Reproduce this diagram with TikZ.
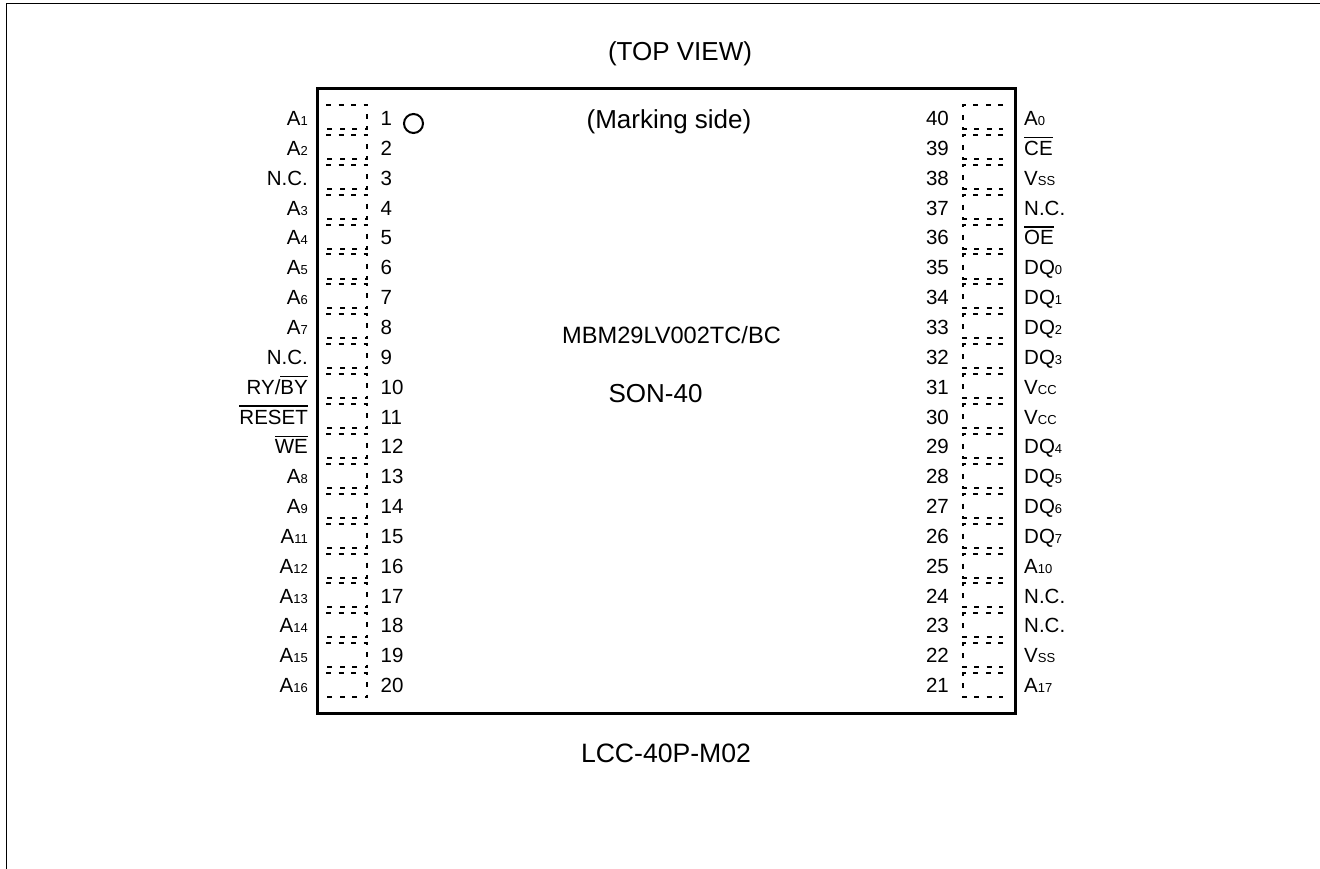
\documentclass[tikz,border=0pt]{standalone}
\usepackage{fontspec}
\setmainfont{Liberation Sans}
\newcommand\ob[1]{\leavevmode\vbox{\hrule height 1.4pt \kern 2.8pt \hbox{#1}}}
\newcommand\sbs[1]{{\fontsize{13}{13}\selectfont #1}}
\newcommand\plab[2]{#1\sbs{#2}}
\tikzset{
  x=1pt,y=-1pt,
  pinbox/.style={line width=2pt,dash pattern=on 5pt off 7.5pt},
  pinnum/.style={font=\fontsize{20.5}{20.5}\selectfont,inner sep=0pt},
  bigtext/.style={font=\fontsize{26}{26}\selectfont,inner sep=0pt,anchor=base},
}
\begin{document}
\begin{tikzpicture}
\useasboundingbox (0,0) rectangle (1320,869);
\draw[line width=1.3pt] (6.5,869) -- (6.5,3.5) -- (1320,3.5);
\draw[line width=3pt] (317,89) rectangle (1015,713);
\node[bigtext] (title) at (680,61) {(TOP VIEW)};
\node[bigtext] (mark) at (669,129) {(Marking side)};
\node[bigtext,font=\fontsize{23.6}{23.6}\selectfont] (part) at (671.5,343) {MBM29LV002TC/BC};
\node[bigtext] (pkg) at (655.5,402) {SON-40};
\node[bigtext,font=\fontsize{26.6}{26.6}\selectfont] (code) at (666,762) {LCC-40P-M02};
\draw[line width=2pt] (413.5,123.5) circle (9.5);
\foreach \i/\t in {1/\plab{A}{1},2/\plab{A}{2},3/N.C.,4/\plab{A}{3},5/\plab{A}{4},6/\plab{A}{5},7/\plab{A}{6},8/\plab{A}{7},9/N.C.,10/{RY/\ob{BY}},11/\ob{RESET},12/\ob{WE},13/\plab{A}{8},14/\plab{A}{9},15/\plab{A}{11},16/\plab{A}{12},17/\plab{A}{13},18/\plab{A}{14},19/\plab{A}{15},20/\plab{A}{16}}{
  \pgfmathsetmacro\yb{125.5+(\i-1)*29.85}
  \pgfmathsetmacro\yt{105+(\i-1)*29.9}
  \draw[pinbox] (326,\yt) -- (367,\yt) -- (367,\yt+24) -- (326,\yt+24);
  \node[pinnum,anchor=base west] (n\i) at (380.5,\yb) {\i};
  \node[pinnum,anchor=base east] (l\i) at (308,\yb) {\t};
}
\foreach \i/\t in {40/\plab{A}{0},39/\ob{CE},38/\plab{V}{SS},37/N.C.,36/\ob{OE},35/\plab{DQ}{0},34/\plab{DQ}{1},33/\plab{DQ}{2},32/\plab{DQ}{3},31/\plab{V}{CC},30/\plab{V}{CC},29/\plab{DQ}{4},28/\plab{DQ}{5},27/\plab{DQ}{6},26/\plab{DQ}{7},25/\plab{A}{10},24/N.C.,23/N.C.,22/\plab{V}{SS},21/\plab{A}{17}}{
  \pgfmathsetmacro\yb{125.5+(40-\i)*29.85}
  \pgfmathsetmacro\yt{105+(40-\i)*29.9}
  \draw[pinbox] (1003,\yt) -- (963,\yt) -- (963,\yt+24) -- (1003,\yt+24);
  \node[pinnum,anchor=base east] (n\i) at (949,\yb) {\i};
  \node[pinnum,anchor=base west] (l\i) at (1024,\yb) {\t};
}
\end{tikzpicture}
\end{document}
